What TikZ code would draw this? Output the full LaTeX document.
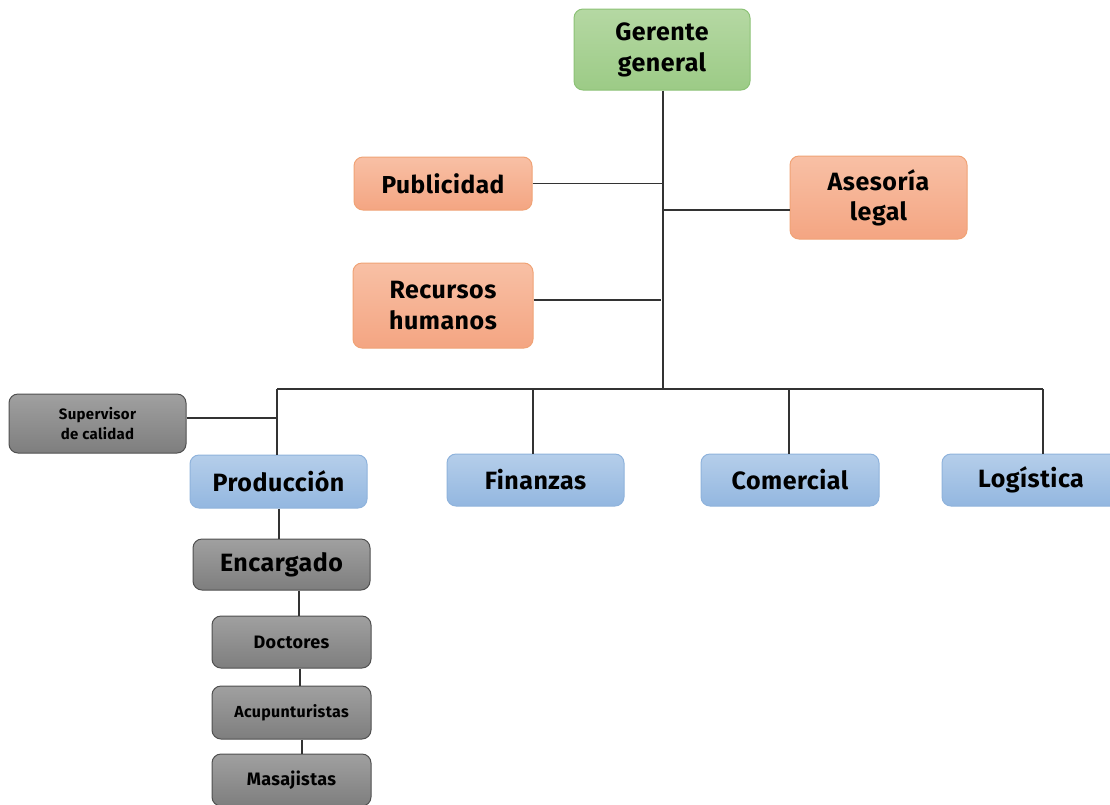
\documentclass[tikz,border=0pt]{standalone}
\usepackage{fontspec}
\setmainfont{Fira Sans}[LetterSpace=2]
\definecolor{gtop}{HTML}{B5D8A3}
\definecolor{gbot}{HTML}{9CCB86}
\definecolor{gline}{HTML}{8CC276}
\definecolor{otop}{HTML}{F8C0A5}
\definecolor{obot}{HTML}{F4A582}
\definecolor{oline}{HTML}{F0A376}
\definecolor{btop}{HTML}{B5CEEA}
\definecolor{bbot}{HTML}{93B7E0}
\definecolor{bline}{HTML}{8FB3DC}
\definecolor{ktop}{HTML}{A0A0A0}
\definecolor{kbot}{HTML}{7E7E7E}
\definecolor{kline}{HTML}{505050}
\definecolor{conn}{HTML}{333333}
\tikzset{
  box/.style={rounded corners=9pt, draw, line width=1pt, align=center,
    font=\bfseries, text=black, inner sep=0pt},
  green/.style={box, top color=gtop, bottom color=gbot, draw=gline},
  orange/.style={box, top color=otop, bottom color=obot, draw=oline},
  blue/.style={box, top color=btop, bottom color=bbot, draw=bline},
  grey/.style={box, top color=ktop, bottom color=kbot, draw=kline},
  link/.style={draw=conn, line width=1.8pt},
}
\begin{document}
\begin{tikzpicture}[x=1pt,y=-1pt]
\useasboundingbox (0,0) rectangle (1110,804);
\fill[white] (0,0) rectangle (1110,804);
\node[green, minimum width=176pt, minimum height=81pt, font=\bfseries\fontsize{25}{31}\selectfont] (gg) at (662,49.5) {Gerente\\general};
\node[orange, minimum width=178pt, minimum height=53pt, font=\bfseries\fontsize{24.5}{27}\selectfont] (pub) at (443,183.5) {Publicidad};
\node[orange, minimum width=177pt, minimum height=83pt, font=\bfseries\fontsize{25}{30}\selectfont] (ase) at (878.5,197.5) {Asesoría\\legal};
\node[orange, minimum width=180pt, minimum height=85pt, font=\bfseries\fontsize{25}{31}\selectfont] (rh) at (443,305.5) {Recursos\\humanos};
\node[grey, minimum width=177pt, minimum height=59pt, font=\bfseries\fontsize{15}{20}\selectfont] (sup) at (97.5,423.5) {Supervisor\\de calidad};
\node[blue, minimum width=177pt, minimum height=53pt, font=\bfseries\fontsize{25}{27}\selectfont] (pro) at (278.5,481.5) {Producción};
\node[blue, minimum width=177pt, minimum height=52pt, font=\bfseries\fontsize{25}{27}\selectfont] (fin) at (535.5,480) {Finanzas};
\node[blue, minimum width=178pt, minimum height=52pt, font=\bfseries\fontsize{25}{27}\selectfont] (com) at (790,480) {Comercial};
\node[blue, minimum width=178pt, minimum height=52pt, font=\bfseries\fontsize{25}{27}\selectfont] (log) at (1031,480) {Logística};
\node[grey, minimum width=177pt, minimum height=51pt, font=\bfseries\fontsize{25}{27}\selectfont] (enc) at (281.5,564.5) {Encargado};
\node[grey, minimum width=159pt, minimum height=52pt, font=\bfseries\fontsize{18}{20}\selectfont] (doc) at (291.5,642) {Doctores};
\node[grey, minimum width=159pt, minimum height=53pt, font=\bfseries\fontsize{16}{18}\selectfont] (acu) at (291.5,712.5) {Acupunturistas};
\node[grey, minimum width=159pt, minimum height=52pt, font=\bfseries\fontsize{18}{20}\selectfont] (mas) at (291.5,780) {Masajistas};
% connectors
\coordinate (t0) at (663,388);
\coordinate (bL) at (277,389);
\coordinate (bR) at (1043,389);
\draw[link] (gg.south -| 663,0) -- (t0);
\draw[link] (pub.east) -- (pub.east -| 663,0);
\draw[link] (ase.west |- 0,210) -- (663,210);
\draw[link] (rh.east |- 0,300) -- (661,300);
\draw[link] (bL) -- (bR);
\draw[link] (bL) -- (pro.north -| bL);
\draw[link] (533,389) -- (fin.north -| 533,0);
\draw[link] (789,389) -- (com.north -| 789,0);
\draw[link] (bR) -- (log.north -| bR);
\draw[link] (sup.east |- 0,418) -- (277,418);
\draw[link] (pro.south -| 279,0) -- (enc.north -| 279,0);
\draw[link] (enc.south -| 299,0) -- (doc.north -| 299,0);
\draw[link] (doc.south -| 300,0) -- (acu.north -| 300,0);
\draw[link] (acu.south -| 302,0) -- (mas.north -| 302,0);
\end{tikzpicture}
\end{document}
